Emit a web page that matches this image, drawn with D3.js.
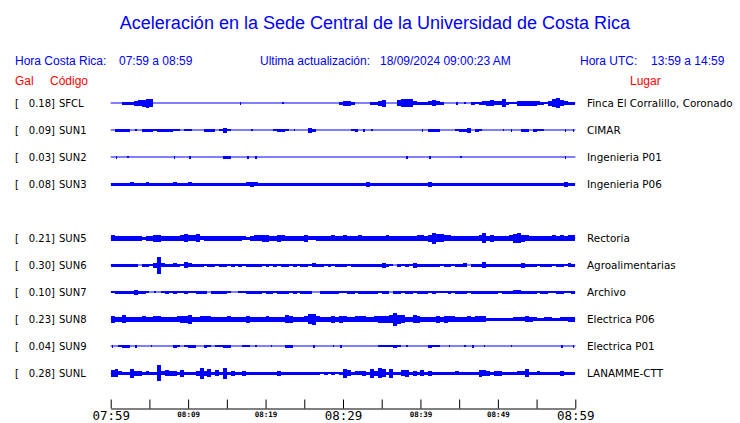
<!DOCTYPE html>
<html>
<head>
<meta charset="utf-8">
<script src="https://cdn.jsdelivr.net/npm/d3@7"></script>
<style>
  html, body { margin: 0; padding: 0; background: #fff; }
  svg { display: block; }
</style>
</head>
<body>
<script>
// ---------- data ----------
const title = "Aceleración en la Sede Central de la Universidad de Costa Rica";
const rowOrder = ["SFCL","SUN1","SUN2","SUN3","SUN4","SUN5","SUN6","SUN7","SUN8","SUN9","SUNL"];
const stations = ["SFCL","SUN1","SUN2","SUN3","SUN5","SUN6","SUN7","SUN8","SUN9","SUNL"];
const galMax = [0.18, 0.09, 0.03, 0.08, 0.21, 0.30, 0.10, 0.23, 0.04, 0.28];
const places = ["Finca El Corralillo, Coronado","CIMAR","Ingenieria P01","Ingenieria P06",
                "Rectoria","Agroalimentarias","Archivo","Electrica P06","Electrica P01","LANAMME-CTT"];
const tickLabels = ["07:59","","08:09","","08:19","","08:29","","08:39","","08:49","","08:59"];
const majorLabels = ["07:59","08:29","08:59"];

// amplitude envelopes (peak-to-peak, one base-36 digit per 30-second bin; 12 groups of 10 bins = 1 hour)
const envSFCL = ["1113335679","8111111111","1111111111","1113111111","1111211111","1111111113",
                 "5531111335","7111688843","3346431113","1213234564","4832255555","43258a6433"];
const envSUN1 = ["1333312133","3233332212","2111333125","2111112111","1123321211","1531111111",
                 "1123131211","1111111111","3133311112","3351321111","1213113313","2211111313"];
const envSUN2 = ["1311211111","1111113111","3111111113","3111131311","1111111111","1111111111",
                 "1111111111","1111113111","1131111111","2111111111","1111111111","1111111311"];
const envSUN3 = ["3333343334","3333334333","4333333333","3333345433","3333333333","3333333333",
                 "3333335333","3333333333","3353333333","3333333333","3333333333","3333333533"];
const envSUN5 = ["6555555535","5775555568","6684555555","5555435667","7557655555","7445555655",
                 "6555655555","5655555556","657b886655","555556a575","55569a7655","5555656566"];
const envSUN6 = ["3333333133","25h4334326","4333233233","2323233332","3232332323","3243323233",
                 "3233333333","5321323253","3333323323","3413336333","3333335333","2333233243"];
const envSUN7 = ["2333335332","1212323223","2233313333","2112233332","3323332323","3311333332",
                 "2332333332","3313323323","3323222323","3323333333","2333443333","2332233223"];
const envSUN8 = ["7558555565","5665555677","9556665555","6555575555","6555587555","6ab6555757",
                 "6556665567","778d985587","5555757665","5565666333","3333444654","3344334455"];
const envSUN9 = ["3123313111","2111113212","3311321223","3111221211","1211133111","1131111213",
                 "1111111112","2223212111","1132211211","1213112111","1112111111","1111113113"];
const envSUNL = ["7843395534","33g4655373","335b58363b","3533533333","3335333333","3333232323",
                 "963445395a","8393367353","6353333334","3333376535","5333344833","4333335333"];
const envelopes = [envSFCL, envSUN1, envSUN2, envSUN3, envSUN5, envSUN6, envSUN7, envSUN8, envSUN9, envSUNL];

// ---------- chart ----------
const W = 740, H = 423;
const BLUE = "#0000ff", RED = "#ff0000";
const svg = d3.select("body").append("svg").attr("width", W).attr("height", H);

const t0 = new Date(2024, 8, 18, 7, 59, 0);
const t1 = new Date(2024, 8, 18, 8, 59, 0);
const x = d3.scaleTime().domain([t0, t1]).range([110.7, 575.3]);
const y = d3.scalePoint().domain(rowOrder).range([103, 373]);
const amp = d3.scaleLinear().domain([0, 1]).range([0, 1]);
const binMs = 30000;

// title
svg.append("text").attr("x", 375).attr("y", 29).attr("text-anchor", "middle")
  .attr("font-family", "Liberation Sans, Arial, sans-serif").attr("font-size", 18)
  .attr("fill", BLUE).text(title);

// header line
const hdr = [
  {t: "Hora Costa Rica:", x: 15}, {t: "07:59 a 08:59", x: 119},
  {t: "Ultima actualización:", x: 260}, {t: "18/09/2024 09:00:23 AM", x: 380},
  {t: "Hora UTC:", x: 580}, {t: "13:59 a 14:59", x: 651}
];
svg.selectAll("text.hdr").data(hdr).join("text").attr("class", "hdr")
  .attr("x", d => d.x).attr("y", 65)
  .attr("font-family", "Liberation Sans, Arial, sans-serif").attr("font-size", 12)
  .attr("fill", BLUE).text(d => d.t);

const hdr2 = [{t: "Gal", x: 15}, {t: "Código", x: 50}, {t: "Lugar", x: 630}];
svg.selectAll("text.hdr2").data(hdr2).join("text").attr("class", "hdr2")
  .attr("x", d => d.x).attr("y", 85)
  .attr("font-family", "Liberation Sans, Arial, sans-serif").attr("font-size", 12)
  .attr("fill", RED).text(d => d.t);

// rows
const labelFont = "DejaVu Sans, sans-serif";
stations.forEach((s, i) => {
  const cy = y(s);
  const g = svg.append("g");
  g.append("text").attr("x", 15).attr("y", cy + 3.5).attr("font-family", labelFont)
    .attr("font-size", 10).attr("fill", "#000").text("[");
  g.append("text").attr("x", 55).attr("y", cy + 3.5).attr("text-anchor", "end")
    .attr("font-family", labelFont).attr("font-size", 10).attr("fill", "#000")
    .text(galMax[i].toFixed(2) + "]");
  g.append("text").attr("x", 59).attr("y", cy + 3.5).attr("font-family", labelFont)
    .attr("font-size", 10).attr("fill", "#000").text(s);
  g.append("text").attr("x", 587).attr("y", cy + 3.5).attr("font-family", labelFont)
    .attr("font-size", 10.4).attr("fill", "#000").text(places[i]);

  // baseline
  g.append("line").attr("x1", x(t0)).attr("x2", x(t1)).attr("y1", cy).attr("y2", cy)
    .attr("stroke", BLUE).attr("stroke-width", 1.2);

  const vals = envelopes[i].join("").split("").map(c => parseInt(c, 36));
  const bins = vals.map((v, j) => ({
    v, a: new Date(+t0 + j * binMs), b: new Date(+t0 + (j + 1) * binMs),
    iso: (j === 0 || vals[j - 1] <= 1) && (j === vals.length - 1 || vals[j + 1] <= 1)
  })).filter(d => d.v > 1);

  g.selectAll("rect").data(bins).join("rect")
    .attr("x", d => d.iso && d.v <= 3 ? (x(d.a) + x(d.b)) / 2 - 0.8 : x(d.a))
    .attr("width", d => d.iso && d.v <= 3 ? 1.6 : x(d.b) - x(d.a))
    .attr("y", d => cy - amp(d.v) / 2)
    .attr("height", d => amp(d.v))
    .attr("fill", BLUE)
    .attr("shape-rendering", "crispEdges");
});

// time axis
const tickTimes = tickLabels.map((_, k) => new Date(+t0 + k * 5 * 60000));
const axis = d3.axisBottom(x).tickValues(tickTimes).tickSize(-9).tickSizeOuter(0)
  .tickPadding(3).tickFormat((d, k) => tickLabels[k]);
const ax = svg.append("g").attr("transform", "translate(0,408.5)").call(axis);
ax.select(".domain").attr("stroke", "#000").attr("stroke-width", 1);
ax.selectAll(".tick line").attr("stroke", "#000");
ax.selectAll(".tick text")
  .attr("fill", "#000")
  .attr("font-family", "DejaVu Sans Mono, monospace")
  .each(function(d, k) {
    const major = majorLabels.includes(tickLabels[k]);
    d3.select(this)
      .attr("font-size", major ? 12.5 : 7.5)
      .attr("font-weight", major ? "normal" : "bold");
  });
</script>
</body>
</html>
